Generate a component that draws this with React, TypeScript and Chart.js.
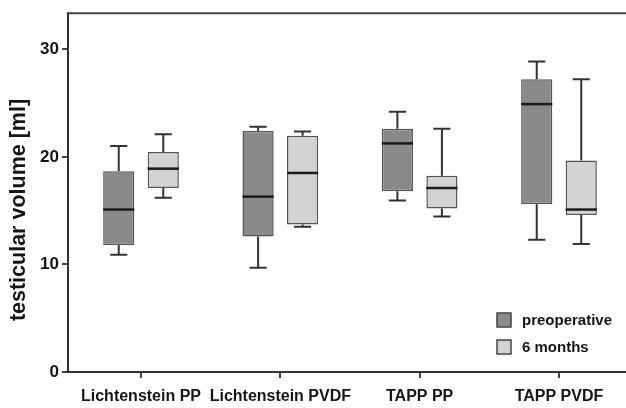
import React, { useEffect, useRef } from "react";
import { Chart, registerables } from "chart.js";

Chart.register(...registerables);

const categories = ["Lichtenstein PP", "Lichtenstein PVDF", "TAPP PP", "TAPP PVDF"];
const seriesNames = ["preoperative", "6 months"];

const preMin = [10.9, 9.7, 15.95, 12.3];
const preQ1 = [11.8, 12.6, 16.8, 15.6];
const preMedian = [15.1, 16.3, 21.25, 24.9];
const preQ3 = [18.65, 22.4, 22.6, 27.2];
const preMax = [21.0, 22.8, 24.2, 28.85];

const postMin = [16.2, 13.5, 14.45, 11.9];
const postQ1 = [17.1, 13.7, 15.2, 14.6];
const postMedian = [18.9, 18.5, 17.1, 15.1];
const postQ3 = [20.45, 21.96, 18.25, 19.65];
const postMax = [22.1, 22.35, 22.6, 27.2];

const yTicks = [0, 10, 20, 30];
const yTitle = "testicular volume [ml]";

const FONT = "'Liberation Sans', Arial, sans-serif";
const TEXT = "#151515";
const FILLS = ["#8a8a8a", "#d2d2d2"];

const stats = [
  { min: preMin, q1: preQ1, med: preMedian, q3: preQ3, max: preMax },
  { min: postMin, q1: postQ1, med: postMedian, q3: postQ3, max: postMax },
];

const boxPlugin = {
  id: "boxExtras",
  afterDatasetsDraw(chart: any) {
    const ctx = chart.ctx;
    const ys = chart.scales.y;
    chart.data.datasets.forEach((_ds: any, di: number) => {
      const meta = chart.getDatasetMeta(di);
      const s = stats[di];
      meta.data.forEach((bar: any, i: number) => {
        const x = bar.x;
        const w = bar.width;
        const cap = w * 0.55;
        const yMax = ys.getPixelForValue(s.max[i]);
        const yQ3 = ys.getPixelForValue(s.q3[i]);
        const yQ1 = ys.getPixelForValue(s.q1[i]);
        const yMin = ys.getPixelForValue(s.min[i]);
        const yMed = ys.getPixelForValue(s.med[i]);
        ctx.save();
        ctx.strokeStyle = "#333";
        ctx.lineWidth = 2;
        ctx.beginPath();
        ctx.moveTo(x, yQ3);
        ctx.lineTo(x, yMax);
        ctx.moveTo(x - cap / 2, yMax);
        ctx.lineTo(x + cap / 2, yMax);
        ctx.moveTo(x, yQ1);
        ctx.lineTo(x, yMin);
        ctx.moveTo(x - cap / 2, yMin);
        ctx.lineTo(x + cap / 2, yMin);
        ctx.stroke();
        ctx.strokeStyle = "#1a1a1a";
        ctx.lineWidth = 2.5;
        ctx.beginPath();
        ctx.moveTo(x - w / 2, yMed);
        ctx.lineTo(x + w / 2, yMed);
        ctx.stroke();
        ctx.restore();
      });
    });
  },
  afterDraw(chart: any) {
    const ctx = chart.ctx;
    const a = chart.chartArea;
    ctx.save();
    ctx.strokeStyle = "#444";
    ctx.lineWidth = 2;
    ctx.beginPath();
    ctx.moveTo(a.left, a.top);
    ctx.lineTo(a.right, a.top);
    ctx.stroke();
    ctx.fillStyle = TEXT;
    ctx.font = `bold 21.5px ${FONT}`;
    ctx.textAlign = "center";
    ctx.textBaseline = "middle";
    ctx.translate(19, 210);
    ctx.rotate(-Math.PI / 2);
    ctx.fillText(yTitle, 0, 0);
    ctx.restore();
    ctx.save();
    const lx = 497;
    const ly = [313, 340];
    seriesNames.forEach((name, i) => {
      ctx.fillStyle = FILLS[i];
      ctx.fillRect(lx, ly[i], 14, 14);
      ctx.strokeStyle = "#444";
      ctx.lineWidth = 1.5;
      ctx.strokeRect(lx, ly[i], 14, 14);
      ctx.fillStyle = TEXT;
      ctx.font = `bold 15px ${FONT}`;
      ctx.textAlign = "left";
      ctx.textBaseline = "middle";
      ctx.fillText(name, 522, ly[i] + 7.5);
    });
    ctx.restore();
  },
};

export default function App() {
  const ref = useRef<HTMLCanvasElement | null>(null);
  useEffect(() => {
    if (!ref.current) return;
    const makeData = (s: any) =>
      categories.map((_c, i) => ({ x: i, y: [s.q1[i], s.q3[i]] }));
    const chart = new Chart(ref.current, {
      type: "bar",
      data: {
        datasets: seriesNames.map((name, di) => ({
          label: name,
          data: makeData(stats[di]),
          backgroundColor: FILLS[di],
          borderColor: "#555",
          borderWidth: 1.5,
          borderSkipped: false,
          categoryPercentage: 0.639,
          barPercentage: 0.7,
        })),
      } as any,
      options: {
        animation: false,
        responsive: false,
        devicePixelRatio: 1,
        layout: { padding: { top: 9, right: 0, left: 0, bottom: 0 } },
        plugins: { legend: { display: false }, tooltip: { enabled: false } },
        scales: {
          x: {
            type: "linear",
            offset: false,
            min: -0.524,
            max: 3.481,
            afterFit: (s: any) => {
              s.height = 36;
            },
            afterBuildTicks: (s: any) => {
              s.ticks = categories.map((_c, i) => ({ value: i }));
            },
            ticks: {
              autoSkip: false,
              maxRotation: 0,
              includeBounds: false,
              padding: 9,
              color: TEXT,
              font: { family: FONT, size: 16, weight: "bold" },
              callback: (v: any) => categories[Math.round(v)] ?? "",
            },
            grid: { offset: false, drawOnChartArea: false, tickLength: 6, color: "#444", lineWidth: 2 },
            border: { display: true, color: "#333", width: 2 },
          },
          y: {
            min: 0,
            max: 33.35,
            afterFit: (s: any) => {
              s.width = 68;
            },
            afterBuildTicks: (s: any) => {
              s.ticks = yTicks.map((v) => ({ value: v }));
            },
            ticks: {
              includeBounds: false,
              padding: 3,
              color: TEXT,
              font: { family: FONT, size: 17, weight: "bold" },
            },
            grid: { drawOnChartArea: false, tickLength: 6, color: "#444", lineWidth: 2 },
            border: { display: true, color: "#333", width: 2 },
          },
        },
      } as any,
      plugins: [boxPlugin],
    });
    return () => chart.destroy();
  }, []);
  return (
    <div
      style={{
        position: "fixed",
        left: 0,
        top: 0,
        width: 626,
        height: 408,
        overflow: "hidden",
        background: "#fff",
      }}
    >
      <canvas ref={ref} width={626} height={408} style={{ display: "block" }} />
    </div>
  );
}
